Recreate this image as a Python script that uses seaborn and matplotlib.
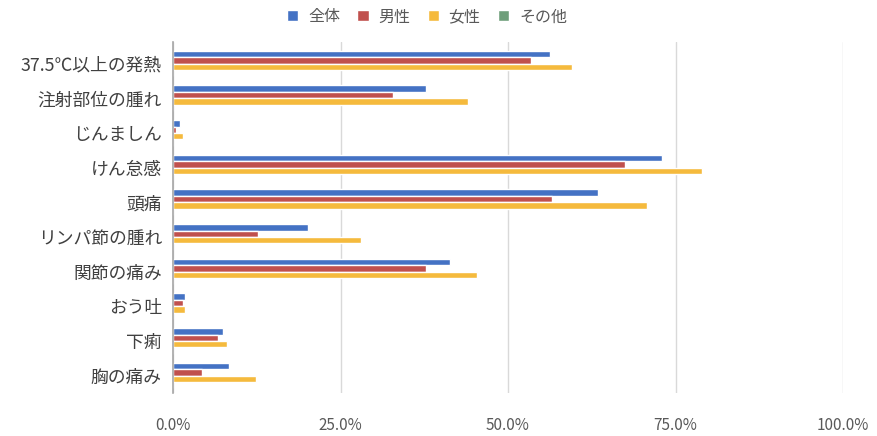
import matplotlib
matplotlib.use("Agg")
import matplotlib.pyplot as plt
import seaborn as sns
import pandas as pd
from matplotlib.ticker import PercentFormatter

categories = ["37.5℃以上の発熱", "注射部位の腫れ", "じんましん", "けん怠感", "頭痛",
              "リンパ節の腫れ", "関節の痛み", "おう吐", "下痢", "胸の痛み"]
series_names = ["全体", "男性", "女性", "その他"]
zentai = [56.2, 37.8, 1.0, 73.0, 63.5, 20.2, 41.4, 1.8, 7.5, 8.4]
dansei = [53.4, 32.8, 0.5, 67.5, 56.6, 12.7, 37.7, 1.5, 6.7, 4.3]
josei = [59.5, 44.0, 1.5, 79.0, 70.7, 28.0, 45.4, 1.8, 8.1, 12.4]
sonota = [0, 0, 0, 0, 0, 0, 0, 0, 0, 0]
x_ticks = [0, 25, 50, 75, 100]

colors = ["#4472C4", "#C0504D", "#F5BA3D", "#6E9E7A"]

rows = []
for name, vals in zip(series_names, [zentai, dansei, josei, sonota]):
    for c, v in zip(categories, vals):
        rows.append({"項目": c, "系列": name, "値": v / 100.0})
df = pd.DataFrame(rows)

sns.set_theme(style="white")
plt.rcParams["font.family"] = ["Noto Sans CJK JP", "DejaVu Sans"]

fig = plt.figure(figsize=(8.77, 4.36), dpi=100)
ax = fig.add_axes([173 / 877, 1 - 393 / 436, (843 - 173) / 877, (393 - 42) / 436])

sns.barplot(data=df, y="項目", x="値", hue="系列", order=categories,
            hue_order=series_names, palette=colors, orient="h",
            width=0.74, saturation=1.0, ax=ax, legend=True)

ax.set_ylim(9.5, -0.624)
ax.set_xlim(0, 1.0)
ax.set_xticks([t / 100 for t in x_ticks])
ax.xaxis.set_major_formatter(PercentFormatter(1.0, decimals=1))
ax.grid(axis="x", color="#D9D9D9", linewidth=1)
ax.set_axisbelow(True)
ax.set_xlabel("")
ax.set_ylabel("")
for s in ["top", "right", "bottom"]:
    ax.spines[s].set_visible(False)
ax.spines["left"].set_color("#A6A6A6")
ax.spines["left"].set_linewidth(1.2)
ax.tick_params(axis="x", length=0, labelsize=11, colors="#595959", pad=17)
ax.tick_params(axis="y", length=0, labelsize=12.8, colors="#404040", pad=8)

handles, labels = ax.get_legend_handles_labels()
ax.legend(handles, labels, loc="center", ncol=4, frameon=False, fontsize=11.5,
          handlelength=0.7, handleheight=0.7, columnspacing=1.1,
          handletextpad=0.6, labelcolor="#595959",
          bbox_to_anchor=(427 / 877, 1 - 17 / 436), bbox_transform=fig.transFigure)

fig.savefig("out.png", dpi=100)
